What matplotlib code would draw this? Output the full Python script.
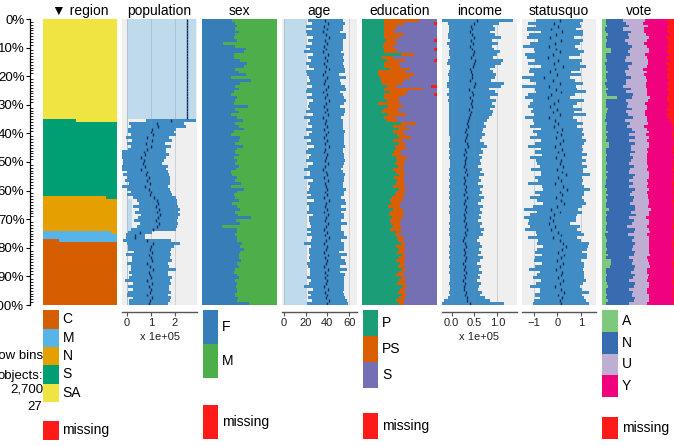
import numpy as np
import matplotlib
matplotlib.use('Agg')
import matplotlib.pyplot as plt
from matplotlib.patches import Rectangle

plt.rcParams['font.family'] = ['Liberation Sans', 'DejaVu Sans']

# ---------------- data ----------------
n_bins = 100
n_objects = 2700
per_bin = 27

region_levels = ['C', 'M', 'N', 'S', 'SA']
region_counts = [600, 100, 322, 718, 960]

sex_levels = ['F', 'M']
sex_F = [.40,.44,.47,.44,.49,.44,.42,.46,.28,.44,
         .58,.56,.42,.42,.51,.60,.56,.44,.49,.58,
         .38,.65,.51,.44,.49,.42,.38,.47,.44,.42,
         .61,.44,.49,.38,.47,.54,.44,.49,.56,.42,
         .38,.51,.49,.44,.54,.47,.44,.49,.42,.47,
         .44,.49,.45,.38,.40,.47,.44,.52,.38,.56,
         .47,.42,.44,.49,.40,.46,.51,.44,.48,.65,
         .45,.50,.26,.47,.47,.44,.47,.46,.53,.51,
         .56,.50,.49,.49,.52,.47,.49,.44,.42,.46,
         .49,.44,.47,.45,.47,.46,.44,.48,.47,.63]

# population (x 1e5): mean and sd per bin
pop_mean = [2.5]*35 + [
    1.85,1.25,1.30,1.05,1.00,
    1.10,0.85,1.05,0.80,1.00,0.85,0.70,0.75,0.60,0.70,
    0.65,0.75,0.60,0.85,0.80,0.90,0.85,0.95,0.75,0.90,
    1.00,0.95,1.15,1.25,1.30,1.20,1.35,1.25,1.40,1.30,
    1.20,1.35,1.25,1.10,0.55,0.35,0.35,0.85,1.10,1.00,
    0.95,1.05,0.90,1.00,1.05,0.85,0.95,1.10,0.90,0.95,
    1.00,0.85,1.05,0.90,1.00,0.95,0.85,1.05,0.95,0.90]
pop_sd = [0.0]*35 + [
    1.05,1.15,1.15,1.00,0.95,
    0.95,0.90,0.85,0.80,0.85,0.80,0.95,1.00,1.05,0.85,
    0.80,0.95,1.05,0.85,0.95,0.90,0.95,0.85,0.95,0.90,
    0.85,0.95,0.90,0.85,0.80,0.95,0.85,0.90,0.80,0.85,
    0.90,0.80,0.85,0.95,0.50,0.40,0.40,1.00,1.10,0.95,
    0.90,0.75,0.95,0.80,0.85,0.85,0.80,0.95,0.80,0.75,
    0.90,0.95,0.80,0.85,0.75,0.90,0.85,0.80,0.85,0.80]
pop_light_by_region = {'C': 0.04, 'M': 0.04, 'N': 0.22, 'S': 0.04, 'SA': 2.9}

age_mean = [38,41,37,40,36,39,42,38,40,37,
            39,36,41,38,40,37,39,42,38,36,
            40,38,37,41,39,36,40,38,42,39,
            37,40,38,41,36,39,38,40,37,41,
            39,37,40,38,42,38,37,40,39,38,
            41,38,36,39,40,37,41,38,39,40,
            38,40,37,42,39,38,40,37,41,39,
            38,41,39,37,40,38,42,39,37,40,
            39,37,41,38,40,39,37,41,38,40,
            38,40,39,37,41,38,40,39,42,40]
age_sd = [16,15,17,14,16,18,15,16,14,17,
          15,17,14,16,15,17,16,14,18,15,
          17,14,16,15,18,16,14,17,15,16,
          15,16,18,14,17,15,16,14,17,15,
          16,18,15,17,14,16,17,15,16,18,
          14,16,17,15,16,18,14,16,15,17,
          17,15,16,14,18,15,17,16,14,16,
          15,17,14,16,15,17,16,14,18,15,
          16,14,17,15,16,18,15,17,14,16,
          17,15,16,18,14,16,15,17,16,19]
age_light = 20

edu_levels = ['P', 'PS', 'S']
edu_P = [.29,.29,.29,.29,.29,.30,.29,.32,.29,.28,
         .30,.29,.52,.27,.33,.30,.29,.38,.22,.22,
         .24,.25,.27,.33,.29,.38,.29,.30,.33,.22,
         .35,.30,.27,.35,.30,.33,.52,.42,.49,.42,
         .47,.49,.42,.49,.44,.46,.43,.40,.45,.47,
         .44,.48,.41,.46,.50,.43,.47,.45,.42,.49,
         .46,.44,.40,.37,.39,.35,.41,.38,.36,.40,
         .37,.39,.42,.38,.45,.44,.47,.48,.52,.46,
         .50,.47,.53,.49,.45,.51,.48,.54,.50,.46,
         .52,.49,.47,.55,.51,.48,.53,.50,.46,.49]
edu_PS = [.48,.27,.18,.16,.14,.26,.21,.12,.18,.13,
          .16,.21,.18,.14,.24,.19,.22,.26,.36,.48,
          .40,.31,.27,.13,.53,.23,.28,.20,.17,.27,
          .20,.18,.22,.24,.14,.15,.20,.16,.14,.13,
          .10,.16,.12,.08,.14,.13,.09,.12,.15,.10,
          .12,.08,.14,.10,.07,.13,.09,.11,.15,.08,
          .10,.13,.15,.18,.12,.16,.14,.17,.20,.13,
          .15,.12,.10,.14,.08,.06,.09,.07,.05,.10,
          .07,.09,.05,.08,.11,.06,.08,.04,.07,.09,
          .06,.08,.10,.05,.07,.09,.06,.08,.10,.07]
edu_missing_bins = [1, 7, 10, 14, 23, 23, 26]

income_mean = [.55,.48,.42,.45,.40,.44,.50,.42,.46,.41,
               .44,.50,.47,.43,.52,.49,.46,.40,.43,.45,
               .44,.41,.52,.49,.38,.44,.46,.40,.45,.42,
               .44,.39,.43,.41,.38,.36,.33,.35,.32,.30,
               .34,.31,.29,.33,.36,.30,.32,.28,.31,.29,
               .30,.27,.31,.29,.33,.28,.30,.27,.32,.29,
               .31,.28,.33,.30,.27,.32,.29,.31,.28,.30,
               .27,.31,.29,.33,.30,.32,.28,.26,.29,.31,
               .28,.30,.27,.32,.29,.26,.30,.28,.31,.27,
               .29,.26,.30,.28,.27,.31,.29,.33,.33,.40]
income_sd = [.80,.55,.48,.50,.45,.52,.58,.46,.55,.47,
             .48,.56,.52,.47,.60,.58,.50,.44,.48,.52,
             .50,.46,.62,.58,.43,.50,.55,.45,.52,.47,
             .50,.45,.48,.47,.43,.42,.38,.40,.37,.36,
             .40,.35,.33,.38,.42,.34,.37,.32,.36,.33,
             .34,.31,.36,.33,.38,.31,.35,.30,.37,.33,
             .36,.31,.38,.34,.31,.37,.33,.36,.32,.34,
             .30,.36,.33,.38,.34,.37,.32,.29,.33,.36,
             .32,.35,.31,.37,.33,.29,.35,.32,.36,.31,
             .33,.30,.35,.32,.31,.36,.33,.40,.50,.75]
income_min = 0.025

sq_mean = [.10,-.15,.05,-.25,.20,-.05,-.30,.15,-.10,-.35,
           -.05,.10,-.20,-.40,.05,-.15,.25,-.10,-.30,.00,
           -.55,-.20,.10,-.35,-.05,.15,-.25,-.40,.05,-.15,
           -.30,.00,-.20,.10,-.35,-.10,.05,-.15,.20,.00,
           .15,-.05,.25,.10,-.10,.20,.05,.30,-.05,.15,
           .10,.25,.00,.20,.35,.05,.15,-.10,.25,.40,
           .10,.20,-.05,.15,.30,.00,-.25,.10,-.15,-.30,
           -.20,-.35,-.10,-.25,.05,.15,-.20,.10,.25,.35,
           .20,.05,.30,.15,.00,.25,.10,-.05,.20,.15,
           .05,.25,.10,-.10,.15,.30,.05,.20,.10,.15]
sq_sd = [1.00,1.10,0.95,1.05,0.90,1.15,1.00,0.95,1.05,1.10,
         0.95,1.05,1.15,0.90,1.00,1.10,0.95,1.05,0.90,1.00,
         1.10,0.95,1.00,1.15,0.90,1.05,1.00,0.95,1.10,1.00,
         0.95,1.05,0.90,1.10,1.00,0.95,1.05,1.00,0.90,1.05,
         1.00,1.10,0.95,1.05,1.15,0.90,1.00,0.95,1.10,1.05,
         0.95,1.00,1.10,0.90,1.05,1.00,0.95,1.15,0.90,1.00,
         1.05,0.95,1.10,1.00,0.90,1.05,1.15,0.95,1.00,1.10,
         1.00,0.90,1.05,1.10,0.95,1.00,1.05,0.90,1.10,0.95,
         1.05,1.00,0.95,1.10,1.00,0.90,1.05,1.15,0.95,1.00,
         1.10,0.95,1.00,1.05,0.90,1.05,1.00,0.95,1.10,1.20]

vote_levels = ['A', 'N', 'U', 'Y']
vote_A = [.06,.05,.07,.04,.06,.08,.05,.07,.06,.05,
          .12,.13,.06,.05,.07,.04,.06,.05,.08,.06,
          .05,.07,.04,.06,.08,.05,.07,.20,.06,.05,
          .06,.08,.07,.05,.06,.04,.07,.05,.06,.08,
          .05,.07,.06,.09,.10,.06,.05,.07,.06,.05,
          .07,.06,.05,.08,.06,.07,.05,.06,.04,.07,
          .06,.08,.05,.07,.06,.05,.09,.06,.07,.05,
          .06,.07,.05,.06,.08,.04,.06,.07,.05,.06,
          .07,.06,.08,.05,.12,.13,.11,.06,.05,.07,
          .06,.05,.07,.08,.06,.05,.07,.06,.08,.05]
vote_N = [.22,.28,.30,.25,.33,.27,.31,.24,.29,.35,
          .26,.22,.32,.28,.24,.36,.29,.31,.23,.27,
          .34,.25,.29,.22,.31,.27,.35,.20,.26,.30,
          .28,.33,.25,.30,.36,.27,.31,.29,.34,.37,
          .32,.38,.30,.35,.29,.33,.40,.31,.36,.34,
          .30,.37,.33,.29,.39,.35,.31,.36,.33,.38,
          .34,.30,.38,.35,.32,.40,.36,.33,.39,.31,
          .37,.33,.29,.38,.35,.31,.37,.34,.40,.36,
          .33,.39,.35,.31,.30,.28,.33,.37,.34,.38,
          .36,.32,.38,.35,.30,.37,.33,.39,.35,.31]
vote_U = [.30,.22,.25,.28,.18,.24,.27,.30,.21,.20,
          .25,.28,.20,.27,.31,.22,.26,.19,.29,.24,
          .20,.29,.26,.31,.22,.28,.18,.25,.30,.23,
          .27,.20,.26,.23,.19,.29,.24,.22,.20,.18,
          .22,.18,.25,.20,.24,.21,.17,.23,.19,.22,
          .24,.19,.22,.26,.18,.21,.25,.20,.23,.18,
          .20,.24,.19,.22,.25,.17,.21,.24,.18,.23,
          .21,.23,.26,.19,.22,.25,.20,.22,.18,.21,
          .23,.19,.22,.25,.20,.23,.21,.18,.22,.19,
          .20,.24,.18,.21,.25,.19,.23,.18,.21,.24]
vote_missing = [.12,.10,.13,.11,.12,.09,.14,.11,.10,.12,
                .11,.13,.10,.12,.09,.14,.11,.12,.10,.13,
                .12,.10,.13,.11,.12,.10,.11,.13,.12,.10,
                .11,.12,.10,.13,.11,.09,.06,.05,.04,.05,
                .06,.04,.05,.03,.05,.06,.04,.05,.03,.04,
                .05,.04,.06,.03,.05,.04,.05,.06,.04,.05,
                .04,.05,.03,.06,.04,.05,.04,.03,.05,.04,
                .05,.04,.06,.05,.03,.04,.05,.04,.06,.05,
                .04,.05,.03,.04,.05,.06,.04,.05,.03,.04,
                .05,.04,.06,.03,.04,.05,.04,.05,.03,.04]

titles = ['\u25BC region', 'population', 'sex', 'age', 'education',
          'income', 'statusquo', 'vote']

# ---------------- colours ----------------
C_REGION = ['#D55E00', '#56B4E9', '#E69F00', '#009E73', '#F0E442']
C_SEX = ['#377EB8', '#4DAF4A']
C_EDU = ['#1B9E77', '#D95F02', '#7570B3']
C_VOTE = ['#7FC97F', '#386CB0', '#BEAED4', '#F0027F']
C_MISS = '#FF1A1A'
BG = '#EFEFEF'
LIGHT = '#BFDAEB'
BLUE = '#3F8DC4'
DARK = '#0B2E5E'

# ---------------- derived bin compositions ----------------
bins = np.arange(n_bins)
yc = bins + 0.5
BH = 1.06  # slight overlap so that neighbouring bins leave no seams
order_desc = list(range(len(region_levels)))[::-1]
bounds = {}
start = 0
for i in order_desc:
    bounds[i] = (start, start + region_counts[i])
    start += region_counts[i]
region_frac = np.zeros((len(region_levels), n_bins))
for b in bins:
    lo, hi = b * per_bin, (b + 1) * per_bin
    for i in range(len(region_levels)):
        s, e = bounds[i]
        region_frac[i, b] = max(0, min(hi, e) - max(lo, s)) / per_bin
pop_light = np.array([min(pop_light_by_region[region_levels[i]]
                          for i in range(len(region_levels)) if region_frac[i, b] > 0)
                      for b in bins])

sex_frac = np.array([sex_F, 1 - np.array(sex_F)])
edu_miss = np.zeros(n_bins)
for b in edu_missing_bins:
    edu_miss[b] += 1 / per_bin
edu_S = 1 - np.array(edu_P) - np.array(edu_PS) - edu_miss
edu_frac = np.array([edu_P, edu_PS, edu_S, edu_miss])
vote_Y = 1 - np.array(vote_A) - np.array(vote_N) - np.array(vote_U) - np.array(vote_missing)
vote_frac = np.array([vote_A, vote_N, vote_U, vote_Y, vote_missing])

# ---------------- figure ----------------
W, H = 674, 446
fig = plt.figure(figsize=(W / 100, H / 100), dpi=100)


def ax_px(x, y, w, h):
    return fig.add_axes([x / W, 1 - (y + h) / H, w / W, h / H])


TOP, BOT = 19.0, 305.0
PW = 74.5


def pleft(i):
    return 42.5 + 79.9 * i


def clean(ax):
    for s in ax.spines.values():
        s.set_visible(False)
    ax.set_xticks([])
    ax.set_yticks([])
    ax.set_ylim(n_bins, 0)


def cat_panel(i, fracs, colors):
    ax = ax_px(pleft(i), TOP, PW, BOT - TOP)
    clean(ax)
    ax.set_xlim(0, 1)
    cum = np.zeros(n_bins)
    for f, c in zip(fracs, colors):
        ax.barh(yc, f, left=cum, height=BH, color=c, linewidth=0)
        cum = cum + f
    return ax


def num_panel(i, mean, sd, light, xlim, grid, ticks, ticklabels, mult=None):
    mean = np.array(mean, float)
    sd = np.array(sd, float)
    ax = ax_px(pleft(i), TOP, PW, BOT - TOP)
    clean(ax)
    ax.set_facecolor(BG)
    ax.set_xlim(*xlim)
    if light is not None:
        ax.barh(yc, np.broadcast_to(light, mean.shape), left=0, height=BH,
                color=LIGHT, linewidth=0)
    ax.barh(yc, 2 * sd, left=mean - sd, height=BH, color=BLUE, linewidth=0)
    for g in grid:
        ax.axvline(g, color='#7A8A99', lw=0.7, alpha=0.3, zorder=3)
    ax.vlines(mean, bins, bins + 1, color=DARK, lw=1.0, zorder=4)
    # axis below
    a2 = ax_px(pleft(i), 300, PW, 12)
    a2.set_facecolor('none')
    for k, s in a2.spines.items():
        s.set_visible(k == 'bottom')
    a2.spines['bottom'].set_color('#555555')
    a2.spines['bottom'].set_linewidth(1.0)
    a2.set_xlim(*xlim)
    a2.set_yticks([])
    a2.set_xticks(ticks)
    a2.set_xticklabels(ticklabels)
    a2.tick_params(axis='x', direction='out', length=3, width=0.8,
                   color='#555555', labelsize=8, pad=1.5, labelcolor='#222222')
    if mult:
        fig.text((pleft(i) + PW / 2) / W, 1 - 337 / H, mult, ha='center',
                 va='center', fontsize=8, color='#222222')
    return ax


cat_panel(0, region_frac, C_REGION)
num_panel(1, pop_mean, pop_sd, pop_light, (-0.19, 2.92), [0, 1, 2],
          [0, 1, 2], ['0', '1', '2'], 'x 1e+05')
cat_panel(2, sex_frac, C_SEX)
num_panel(3, age_mean, age_sd, age_light, (-1.4, 67.0), [0, 20, 40, 60],
          [0, 20, 40, 60], ['0', '20', '40', '60'])
cat_panel(4, edu_frac, C_EDU + [C_MISS])
num_panel(5, income_mean, income_sd, income_min, (-0.21, 1.42), [0, 0.5, 1.0],
          [0, 0.5, 1.0], ['0.0', '0.5', '1.0'], 'x 1e+05')
num_panel(6, sq_mean, sq_sd, None, (-1.5, 1.66), [-1, 0, 1],
          [-1, 0, 1], ['\u22121', '0', '1'])
cat_panel(7, vote_frac, C_VOTE + [C_MISS])

# y axis (percent)
ay = ax_px(30, TOP, 1, BOT - TOP)
ay.set_facecolor('none')
for k, s in ay.spines.items():
    s.set_visible(k == 'left')
ay.spines['left'].set_linewidth(0.9)
ay.set_ylim(100, 0)
ay.set_xticks([])
ay.set_yticks(np.arange(0, 101, 10))
ay.set_yticklabels([f'{v}%' for v in range(0, 101, 10)])
ay.set_yticks(np.arange(0, 101, 1), minor=True)
ay.tick_params(axis='y', which='major', direction='out', length=3, width=0.8,
               labelsize=9.5, pad=1)
ay.tick_params(axis='y', which='minor', direction='in', length=1.8, width=0.6)

# titles
for i, t in enumerate(titles):
    fig.text((pleft(i) + PW / 2) / W, 1 - 11 / H, t, ha='center', va='center',
             fontsize=10)

# legends (overlay in pixel coordinates)
ov = fig.add_axes([0, 0, 1, 1])
ov.set_xlim(0, W)
ov.set_ylim(H, 0)
ov.axis('off')
ov.patch.set_visible(False)

# info text (drawn first, legend boxes cover the overflow)
ov.text(47, 356, 'row bins:', ha='right', va='center', fontsize=9.5, zorder=1)
ov.text(43.5, 375.5, 'objects:', ha='right', va='center', fontsize=9.5, zorder=1)
ov.text(43, 390, '2,700', ha='right', va='center', fontsize=9.5, zorder=1)
ov.text(42.5, 407, '27', ha='right', va='center', fontsize=9.5, zorder=1)


def legend(x, labels, colors, h, y0=310.3, bottom=438.6, bw=15.5):
    for k, (lab, c) in enumerate(zip(labels, colors)):
        y = y0 + k * h
        ov.add_patch(Rectangle((x, y), bw, h, color=c, lw=0, zorder=3))
        ov.text(x + bw + 4, y + h / 2, lab, ha='left', va='center',
                fontsize=10, zorder=3)
    ov.add_patch(Rectangle((x, bottom - h), bw, h, color=C_MISS, lw=0, zorder=3))
    ov.text(x + bw + 4, bottom - h / 2, 'missing', ha='left', va='center',
            fontsize=10, zorder=3)


legend(pleft(0) + 0.5, region_levels, C_REGION, 18.3, bottom=439.5)
legend(pleft(2) + 0.5, sex_levels, C_SEX, 34.0)
legend(pleft(4) + 0.5, edu_levels, C_EDU, 25.9)
legend(pleft(7) + 0.5, vote_levels, C_VOTE, 21.6)

fig.savefig('out.png', dpi=100)
